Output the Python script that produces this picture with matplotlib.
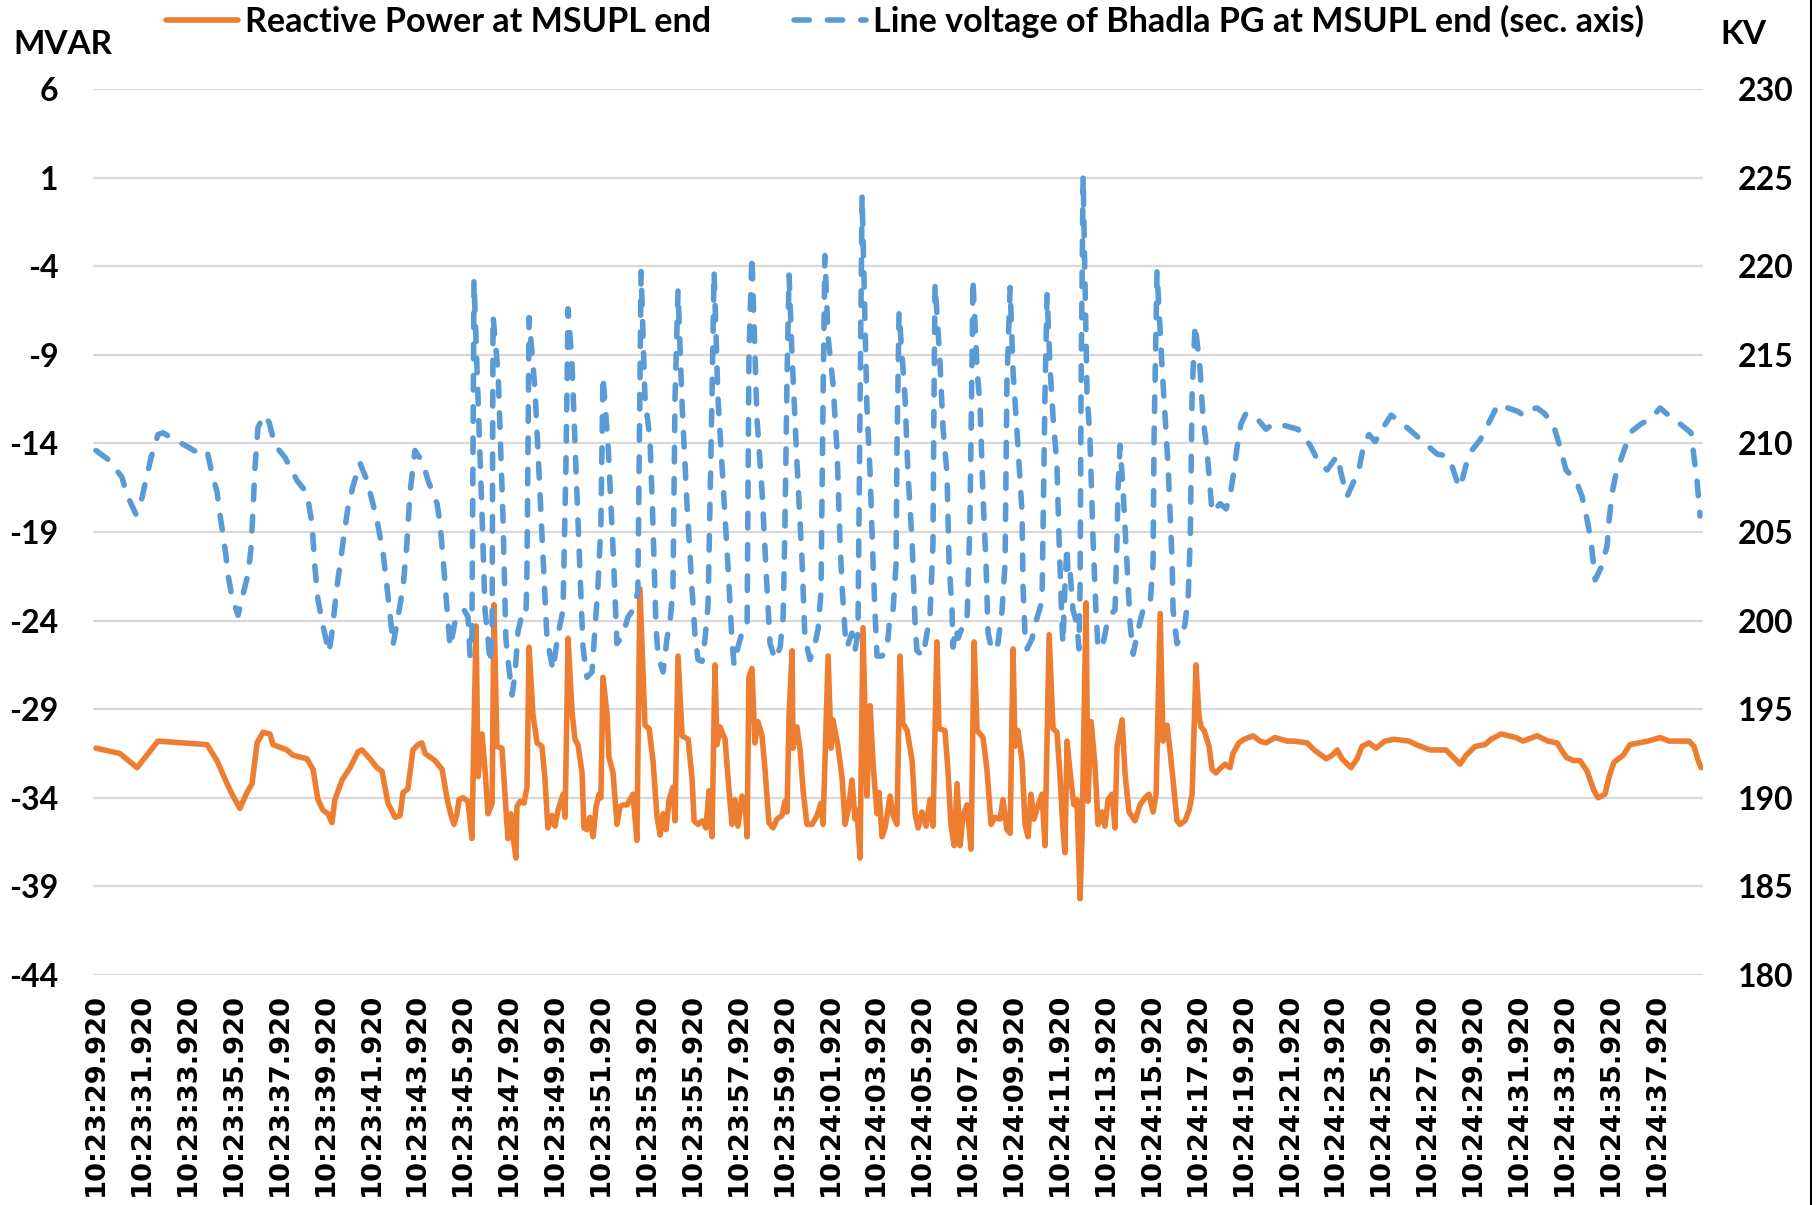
import matplotlib
matplotlib.use("Agg")
import matplotlib.pyplot as plt
from matplotlib.lines import Line2D

plt.rcParams["axes.unicode_minus"] = False
plt.rcParams["lines.scale_dashes"] = False

# Time stamps are seconds after 10:23:00
q_time = [
    29.92, 30.96, 31.71, 32.62, 34.76, 35.19, 35.63, 35.85, 36.19, 36.50, 36.72, 36.94,
    37.20, 37.50, 37.63, 38.24, 38.50, 39.11, 39.38, 39.59, 39.81, 40.03, 40.20, 40.33,
    40.64, 40.99, 41.34, 41.51, 41.86, 42.16, 42.38, 42.64, 42.95, 43.17, 43.30, 43.51,
    43.73, 43.95, 44.12, 44.26, 44.69, 45.00, 45.21, 45.39, 45.52, 45.65, 45.74, 45.91,
    46.13, 46.30, 46.48, 46.57, 46.74, 46.87, 47.00, 47.18, 47.26, 47.39, 47.61, 47.74,
    47.87, 48.00, 48.09, 48.22, 48.26, 48.40, 48.57, 48.70, 48.79, 48.96, 49.14, 49.35,
    49.48, 49.61, 49.79, 49.92, 50.05, 50.27, 50.36, 50.49, 50.66, 50.79, 50.92, 51.10,
    51.18, 51.31, 51.44, 51.58, 51.71, 51.84, 51.92, 52.01, 52.19, 52.27, 52.45, 52.62,
    52.75, 52.88, 53.06, 53.23, 53.32, 53.49, 53.62, 53.84, 54.02, 54.19, 54.36, 54.50,
    54.63, 54.76, 54.89, 55.06, 55.15, 55.28, 55.46, 55.72, 55.89, 55.98, 56.15, 56.33,
    56.50, 56.63, 56.76, 56.89, 56.98, 57.11, 57.33, 57.46, 57.63, 57.76, 57.89, 58.07,
    58.20, 58.29, 58.37, 58.50, 58.63, 58.76, 58.94, 59.07, 59.24, 59.42, 59.59, 59.81,
    59.94, 60.03, 60.12, 60.25, 60.29, 60.46, 60.60, 60.73, 60.90, 61.12, 61.34, 61.51,
    61.60, 61.82, 61.95, 62.03, 62.25, 62.43, 62.56, 62.69, 62.86, 62.99, 63.08, 63.21,
    63.34, 63.51, 63.65, 63.78, 63.95, 64.04, 64.17, 64.30, 64.52, 64.65, 64.82, 64.95,
    65.08, 65.26, 65.48, 65.61, 65.74, 65.91, 66.09, 66.26, 66.39, 66.56, 66.65, 66.91,
    67.04, 67.17, 67.31, 67.44, 67.57, 67.70, 67.87, 68.05, 68.18, 68.31, 68.57, 68.74,
    68.92, 69.09, 69.31, 69.44, 69.61, 69.75, 69.88, 69.96, 70.09, 70.27, 70.40, 70.53,
    70.66, 70.79, 70.97, 71.14, 71.27, 71.45, 71.62, 71.79, 71.92, 72.05, 72.14, 72.23,
    72.40, 72.53, 72.66, 72.80, 72.88, 73.06, 73.14, 73.28, 73.45, 73.58, 73.75, 73.88,
    74.02, 74.19, 74.32, 74.41, 74.63, 74.76, 74.93, 75.19, 75.41, 75.63, 75.80, 75.98,
    76.11, 76.29, 76.41, 76.59, 76.72, 76.85, 77.02, 77.15, 77.37, 77.55, 77.68, 77.85,
    77.98, 78.07, 78.20, 78.42, 78.55, 78.72, 78.94, 79.11, 79.33, 79.46, 79.72, 79.94,
    80.33, 80.64, 80.90, 81.29, 81.82, 82.12, 82.69, 83.00, 83.52, 83.78, 84.00, 84.21,
    84.60, 84.87, 85.08, 85.39, 85.69, 86.08, 86.48, 87.13, 87.44, 88.05, 88.74, 89.05,
    89.35, 89.62, 90.01, 90.44, 90.70, 91.14, 91.79, 92.10, 92.71, 93.19, 93.58, 93.97,
    94.28, 94.58, 94.89, 95.19, 95.37, 95.67, 95.85, 96.06, 96.46, 96.76, 97.15, 97.54,
    98.07, 98.46, 98.86, 99.34, 99.55, 99.73, 99.86,
]
q_mvar = [
    -31.2, -31.5, -32.3, -30.8, -31.0, -31.9, -33.2, -33.8, -34.6, -33.7, -33.2, -30.9,
    -30.3, -30.4, -31.0, -31.3, -31.6, -31.8, -32.4, -34.1, -34.7, -34.9, -35.4, -34.1,
    -33.0, -32.3, -31.4, -31.3, -31.8, -32.3, -32.5, -34.3, -35.1, -35.0, -33.7, -33.5,
    -31.3, -31.0, -30.9, -31.5, -31.9, -32.4, -34.0, -35.0, -35.5, -34.9, -34.1, -34.0,
    -34.2, -36.3, -24.3, -32.8, -30.4, -32.4, -34.9, -34.3, -23.1, -31.1, -31.2, -33.8,
    -36.3, -34.9, -36.2, -37.4, -34.5, -34.2, -34.3, -33.4, -25.5, -29.3, -30.9, -31.1,
    -32.9, -35.7, -35.0, -35.6, -34.7, -33.8, -35.1, -25.0, -29.1, -30.7, -31.0, -32.6,
    -35.7, -35.8, -35.1, -36.2, -34.5, -33.8, -34.0, -27.2, -29.3, -31.7, -32.6, -35.5,
    -34.5, -34.4, -34.4, -34.0, -33.8, -36.4, -22.2, -29.9, -30.1, -31.9, -35.0, -36.1,
    -34.9, -35.8, -34.1, -33.4, -35.3, -26.0, -30.5, -30.7, -32.9, -35.3, -35.5, -35.3,
    -35.7, -33.6, -36.2, -26.5, -31.0, -30.0, -30.7, -32.9, -35.5, -34.1, -35.6, -33.9,
    -34.2, -36.2, -27.2, -26.7, -30.9, -29.7, -30.5, -32.4, -35.4, -35.7, -35.2, -35.0,
    -34.2, -34.8, -29.3, -25.7, -31.2, -30.0, -31.3, -33.6, -35.5, -35.5, -35.0, -34.3,
    -35.5, -26.0, -31.2, -29.6, -31.1, -32.9, -35.5, -34.7, -33.0, -35.2, -34.7, -37.4,
    -24.4, -33.9, -28.8, -32.1, -34.9, -33.7, -36.2, -35.7, -33.9, -35.0, -35.5, -26.0,
    -29.8, -30.2, -31.9, -34.9, -35.7, -34.8, -35.6, -34.1, -35.6, -25.2, -30.1, -30.2,
    -32.4, -35.5, -36.7, -33.2, -36.7, -35.0, -34.4, -36.9, -25.2, -30.2, -30.6, -32.4,
    -35.5, -35.1, -35.2, -34.1, -35.8, -36.0, -25.6, -31.1, -30.2, -31.9, -35.5, -36.2,
    -33.8, -35.2, -34.4, -33.8, -36.7, -24.8, -30.1, -30.3, -32.7, -35.7, -37.1, -30.8,
    -33.0, -34.4, -34.1, -39.7, -36.3, -23.0, -34.2, -29.7, -32.2, -35.5, -34.8, -35.6,
    -34.1, -33.8, -35.7, -31.1, -29.6, -32.7, -34.8, -35.3, -34.4, -34.0, -33.8, -34.8,
    -33.8, -23.6, -30.8, -29.9, -31.4, -33.0, -35.3, -35.5, -35.3, -34.7, -33.8, -26.5,
    -29.4, -30.0, -30.2, -31.1, -32.4, -32.6, -32.3, -32.1, -32.3, -31.5, -30.9, -30.7,
    -30.5, -30.8, -30.9, -30.6, -30.8, -30.8, -30.9, -31.3, -31.8, -31.6, -31.3, -31.8,
    -32.3, -31.8, -31.1, -30.9, -31.2, -30.8, -30.7, -30.8, -31.0, -31.3, -31.3, -31.7,
    -32.1, -31.6, -31.1, -31.0, -30.7, -30.4, -30.6, -30.8, -30.5, -30.8, -30.9, -31.7,
    -31.9, -31.9, -32.5, -33.6, -34.0, -33.8, -32.8, -32.0, -31.6, -31.0, -30.9, -30.8,
    -30.6, -30.8, -30.8, -30.8, -31.1, -31.9, -32.3,
]

v_time = [
    29.92, 30.44, 31.05, 31.27, 31.66, 31.92, 32.14, 32.32, 32.62, 32.84, 33.36, 33.93,
    34.32, 34.76, 34.97, 35.19, 35.32, 35.45, 35.58, 35.67, 35.85, 36.11, 36.33, 36.54,
    36.67, 36.76, 36.85, 36.98, 37.24, 37.46, 37.72, 38.16, 38.68, 39.11, 39.33, 39.46,
    39.59, 39.81, 40.07, 40.20, 40.42, 40.64, 40.90, 41.12, 41.42, 41.73, 42.16, 42.43,
    42.60, 42.82, 42.86, 43.08, 43.30, 43.47, 43.60, 43.82, 44.17, 44.39, 44.78, 44.91,
    45.04, 45.17, 45.35, 45.56, 45.96, 46.13, 46.22, 46.30, 46.39, 46.57, 46.74, 46.87,
    47.00, 47.09, 47.18, 47.22, 47.44, 47.65, 47.78, 47.87, 48.05, 48.18, 48.31, 48.53,
    48.66, 48.70, 48.79, 49.05, 49.31, 49.57, 49.83, 50.05, 50.27, 50.40, 50.49, 50.66,
    50.88, 51.14, 51.31, 51.53, 51.66, 51.79, 51.92, 52.01, 52.23, 52.45, 52.62, 52.88,
    53.10, 53.32, 53.53, 53.67, 53.84, 54.06, 54.19, 54.32, 54.41, 54.63, 54.80, 54.93,
    55.06, 55.15, 55.28, 55.46, 55.67, 55.89, 56.02, 56.15, 56.33, 56.46, 56.59, 56.76,
    56.85, 57.02, 57.24, 57.46, 57.63, 57.72, 57.89, 58.11, 58.29, 58.37, 58.50, 58.72,
    58.94, 59.16, 59.29, 59.51, 59.73, 59.86, 59.94, 60.03, 60.12, 60.25, 60.46, 60.68,
    60.81, 61.03, 61.25, 61.38, 61.51, 61.60, 61.68, 61.82, 62.03, 62.21, 62.34, 62.43,
    62.56, 62.64, 62.86, 62.99, 63.12, 63.21, 63.30, 63.51, 63.65, 63.78, 63.86, 63.95,
    64.17, 64.39, 64.52, 64.65, 64.78, 64.82, 64.91, 65.17, 65.30, 65.48, 65.61, 65.69,
    65.96, 66.13, 66.26, 66.39, 66.43, 66.48, 66.69, 66.83, 67.00, 67.09, 67.22, 67.26,
    67.39, 67.48, 67.66, 67.87, 68.00, 68.09, 68.13, 68.31, 68.44, 68.57, 68.70, 68.79,
    68.96, 69.22, 69.40, 69.53, 69.61, 69.75, 69.88, 70.05, 70.14, 70.27, 70.31, 70.40,
    70.49, 70.71, 70.84, 71.14, 71.18, 71.27, 71.36, 71.49, 71.62, 71.79, 71.88, 72.01,
    72.05, 72.14, 72.23, 72.27, 72.36, 72.49, 72.66, 72.75, 72.80, 72.84, 72.93, 73.10,
    73.23, 73.36, 73.49, 73.58, 73.80, 73.97, 74.10, 74.32, 74.41, 74.45, 74.54, 74.67,
    74.76, 74.85, 74.98, 75.11, 75.33, 75.54, 75.85, 75.98, 76.02, 76.15, 76.37, 76.50,
    76.63, 76.81, 76.85, 77.02, 77.25, 77.37, 77.51, 77.60, 77.68, 77.81, 78.02, 78.15,
    78.33, 78.55, 78.90, 79.16, 79.33, 79.51, 79.64, 79.81, 80.03, 80.51, 80.90, 81.21,
    81.73, 82.29, 82.82, 83.17, 83.56, 84.00, 84.21, 84.43, 84.74, 84.96, 85.17, 85.39,
    85.65, 85.96, 86.35, 87.13, 87.74, 88.35, 88.74, 88.96, 89.31, 89.48, 89.74, 90.23,
    90.62, 91.01, 91.88, 92.10, 92.32, 92.71, 93.02, 93.41, 93.71, 93.97, 94.41, 94.67,
    94.89, 95.06, 95.24, 95.50, 95.76, 95.85, 95.98, 96.15, 96.55, 96.85, 97.24, 97.67,
    98.07, 98.33, 98.94, 99.42, 99.55, 99.68, 99.81,
]
v_kv = [
    209.6, 209.1, 208.1, 207.1, 206.0, 206.9, 208.2, 209.2, 210.5, 210.6, 210.2, 209.8,
    209.5, 209.6, 208.3, 207.3, 206.0, 204.9, 203.7, 202.6, 201.3, 200.3, 201.5, 202.6,
    204.0, 206.2, 208.7, 210.9, 211.6, 211.2, 209.9, 209.2, 207.9, 207.2, 205.5, 203.0,
    201.2, 199.7, 198.2, 199.3, 201.9, 204.0, 206.4, 207.6, 208.9, 207.9, 205.7, 203.8,
    201.9, 199.3, 198.6, 200.2, 201.9, 204.4, 207.2, 209.6, 208.9, 207.9, 206.6, 205.5,
    203.6, 201.4, 198.5, 199.9, 200.6, 200.2, 198.0, 199.2, 219.2, 212.5, 206.0, 200.6,
    199.0, 197.6, 199.5, 217.2, 214.0, 206.0, 199.0, 197.8, 195.8, 197.0, 199.4, 200.6,
    200.5, 203.0, 217.1, 213.0, 206.0, 199.0, 197.2, 199.2, 200.6, 209.0, 217.6, 214.5,
    207.0, 198.5, 196.8, 197.1, 199.5, 201.9, 205.4, 213.8, 210.0, 204.0, 198.7, 199.2,
    200.2, 200.6, 201.6, 219.7, 212.6, 210.2, 205.4, 199.7, 198.0, 197.1, 199.0, 199.9,
    201.8, 212.6, 218.6, 212.1, 206.6, 201.8, 199.2, 197.8, 197.7, 199.0, 200.9, 212.6,
    219.7, 212.6, 207.8, 203.0, 198.9, 197.5, 198.5, 199.5, 199.7, 214.9, 220.6, 211.4,
    207.3, 201.8, 198.7, 197.8, 198.5, 200.2, 205.4, 213.8, 219.5, 214.9, 209.0, 203.5,
    199.0, 197.8, 198.7, 199.5, 201.6, 212.6, 220.6, 216.0, 213.4, 209.6, 204.4, 201.9,
    199.3, 198.5, 199.3, 198.3, 199.3, 212.1, 224.0, 212.1, 208.3, 203.2, 200.6, 198.0,
    198.0, 198.5, 200.3, 200.6, 203.2, 209.6, 217.4, 212.6, 208.3, 204.4, 199.8, 198.3,
    198.0, 199.3, 200.3, 204.4, 212.1, 219.0, 214.7, 210.8, 208.3, 203.2, 200.6, 198.5,
    199.6, 199.0, 199.6, 199.8, 205.7, 214.7, 219.3, 214.2, 212.1, 207.0, 203.2, 199.3,
    198.3, 198.7, 200.6, 203.2, 213.4, 218.8, 214.0, 210.7, 208.8, 206.1, 202.0, 199.2,
    198.4, 199.0, 199.8, 201.1, 204.7, 212.9, 218.4, 214.3, 211.5, 208.8, 204.7, 199.8,
    198.7, 202.0, 204.2, 202.5, 202.8, 200.6, 199.8, 198.4, 202.0, 212.9, 225.1, 212.9,
    210.2, 204.7, 200.6, 198.4, 198.7, 199.8, 200.3, 200.6, 204.7, 207.4, 209.9, 207.4,
    205.2, 203.1, 199.8, 198.1, 199.5, 200.6, 200.9, 203.3, 210.2, 219.7, 214.3, 211.5,
    208.8, 203.3, 200.6, 198.7, 199.2, 199.8, 201.4, 204.7, 212.9, 216.7, 214.3, 211.5,
    209.6, 206.1, 206.6, 206.3, 207.0, 208.5, 209.8, 211.1, 211.7, 211.4, 210.8, 211.1,
    211.0, 210.8, 209.9, 209.0, 208.5, 209.3, 208.1, 207.0, 207.9, 208.6, 210.0, 210.5,
    210.1, 210.8, 211.6, 210.8, 210.1, 209.4, 209.3, 208.9, 207.5, 208.1, 209.4, 210.2,
    211.2, 212.2, 211.8, 211.6, 211.9, 212.0, 211.7, 211.1, 209.8, 208.5, 207.9, 207.0,
    205.7, 204.5, 202.3, 203.0, 204.2, 205.7, 207.2, 208.3, 209.8, 210.7, 211.1, 211.4,
    212.0, 211.7, 211.1, 210.6, 209.2, 207.9, 205.9,
]

time_labels = [
    "10:23:29.920", "10:23:31.920", "10:23:33.920", "10:23:35.920", "10:23:37.920",
    "10:23:39.920", "10:23:41.920", "10:23:43.920", "10:23:45.920", "10:23:47.920",
    "10:23:49.920", "10:23:51.920", "10:23:53.920", "10:23:55.920", "10:23:57.920",
    "10:23:59.920", "10:24:01.920", "10:24:03.920", "10:24:05.920", "10:24:07.920",
    "10:24:09.920", "10:24:11.920", "10:24:13.920", "10:24:15.920", "10:24:17.920",
    "10:24:19.920", "10:24:21.920", "10:24:23.920", "10:24:25.920", "10:24:27.920",
    "10:24:29.920", "10:24:31.920", "10:24:33.920", "10:24:35.920", "10:24:37.920",
]
mvar_ticks = [6, 1, -4, -9, -14, -19, -24, -29, -34, -39, -44]
kv_ticks = [230, 225, 220, 215, 210, 205, 200, 195, 190, 185, 180]

label_q = "Reactive Power at MSUPL end"
label_v = "Line voltage of Bhadla PG at MSUPL end (sec. axis)"

ORANGE = "#ED7D31"
BLUE = "#5B9BD5"
GRID = "#D9D9D9"
TEXT_FONT = ["Lato", "DejaVu Sans"]
LW = 4.0
DASH = (10.5, 12.0)  # points, drawn with round caps


def label_seconds(s):
    hh, mm, ss = s.split(":")
    return (int(mm) - 23) * 60 + float(ss)


tick_pos = [label_seconds(s) for s in time_labels]

W, H = 1816, 1205
fig = plt.figure(figsize=(W / 100, H / 100), dpi=100)
ax = fig.add_axes([93 / W, 1 - 975 / H, (1703 - 93) / W, (975 - 89) / H])
ax2 = ax.twinx()

ax.set_xlim(29.79, 99.94)
ax.set_ylim(-44, 6)
ax2.set_ylim(180, 230)

ax.set_yticks(mvar_ticks)
ax2.set_yticks(kv_ticks)
ax.yaxis.grid(True, color=GRID, linewidth=1.6)
ax.set_axisbelow(True)

for a in (ax, ax2):
    for sp in a.spines.values():
        sp.set_visible(False)
    a.tick_params(length=0)

ax.set_xticks(tick_pos)
ax.set_xticklabels(time_labels, rotation=90, fontsize=19.7, fontweight="bold",
                   family="DejaVu Sans")
ax.tick_params(axis="x", pad=13)
ax.tick_params(axis="y", pad=25)
ax2.tick_params(axis="y", pad=25)
for lab in list(ax.get_yticklabels()) + list(ax2.get_yticklabels()):
    lab.set_fontsize(23)
    lab.set_fontweight("bold")
    lab.set_family(TEXT_FONT)

ax.plot(q_time, q_mvar, color=ORANGE, linewidth=LW, solid_joinstyle="round",
        solid_capstyle="round")
(vline,) = ax2.plot(v_time, v_kv, color=BLUE, linewidth=LW, dash_capstyle="round",
                    dash_joinstyle="round")
vline.set_dashes(DASH)

# legend across the top
h_q = Line2D([], [], color=ORANGE, linewidth=LW, solid_capstyle="round")
h_v = Line2D([], [], color=BLUE, linewidth=LW, dash_capstyle="round")
h_v.set_dashes((11.0, 13.0))
fig.legend([h_q, h_v], [label_q, label_v], loc="center left",
           bbox_to_anchor=(166 / W, 1 - 21 / H), ncol=2, frameon=False,
           borderpad=0, borderaxespad=0, handlelength=2.1, handletextpad=0.2,
           columnspacing=2.45, prop={"family": TEXT_FONT, "weight": "bold", "size": 24.6})

fig.text(63 / W, 1 - 45 / H, "MVAR", ha="center", va="center", fontsize=24,
         fontweight="bold", family=TEXT_FONT)
fig.text(1743 / W, 1 - 34 / H, "KV", ha="center", va="center", fontsize=24,
         fontweight="bold", family=TEXT_FONT)

# right-hand frame edge
fig.add_artist(Line2D([1811 / W, 1811 / W], [0, 1], color="black", linewidth=1.5,
                      transform=fig.transFigure))

fig.savefig("out.png", dpi=100)
